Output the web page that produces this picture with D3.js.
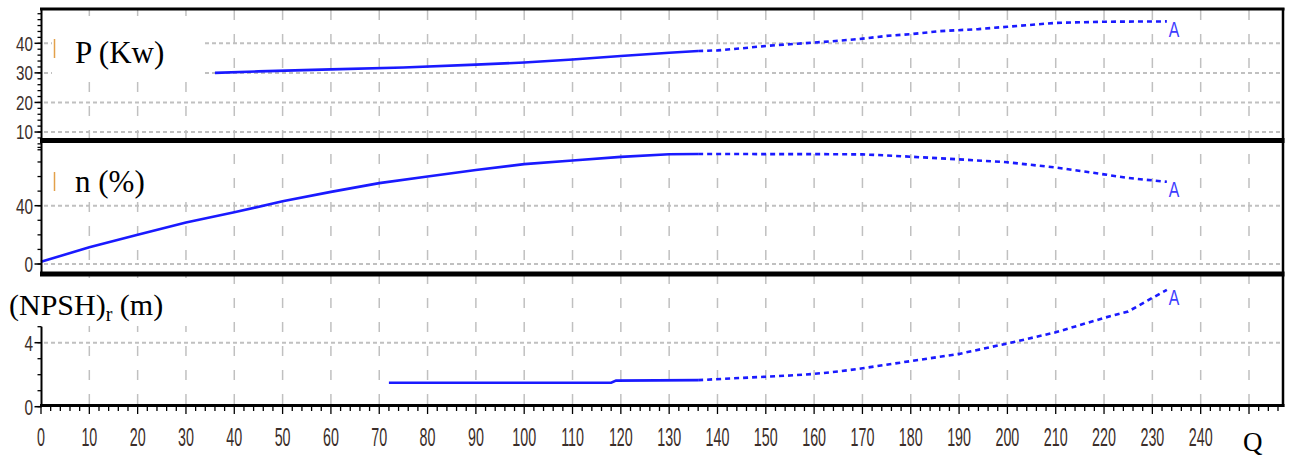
<!DOCTYPE html>
<html><head><meta charset="utf-8">
<script src="https://cdn.jsdelivr.net/npm/d3@7"></script>
<style>body{margin:0;background:#fff;}svg{display:block;}</style>
</head><body><svg id="c" width="1291" height="457"></svg>
<script>
// ---- data ----
const xTicks = [0,10,20,30,40,50,60,70,80,90,100,110,120,130,140,150,160,170,180,190,200,210,220,230,240];
const pTicks = [10,20,30,40];
const nTicks = [0,40];
const hTicks = [0,4];

const pSolidQ = [36,45,60,75,90,100,110,120,130,136];
const pSolid  = [30,30.5,31.2,31.8,32.8,33.5,34.5,35.7,36.8,37.4];
const pDotQ   = [136,140,145,150,155,163,169,175,180,186,194,200,210,220,233];
const pDot    = [37.4,37.6,38.3,39.1,39.7,40.6,41.4,42.5,43.1,44.1,44.8,45.6,46.9,47.3,47.4];

const nSolidQ = [0,10,20,30,40,50,60,70,80,90,100,110,120,130,136];
const nSolid  = [1.5,11.5,20,28.5,35.5,43,49.5,55.5,60,64.5,68.5,71,73.5,75.3,75.5];
const nDotQ   = [136,150,160,170,175,180,190,200,210,220,225,233];
const nDot    = [75.5,75.4,75.4,75.2,74.5,73.6,71.8,69.8,66.2,61.5,59,56.4];

const hSolidQ = [72,118,119,136];
const hSolid  = [1.5,1.5,1.63,1.66];
const hDotQ   = [136,145,155,160,165,170,180,190,200,210,220,225,230,233];
const hDot    = [1.66,1.8,1.95,2.05,2.2,2.4,2.85,3.3,3.95,4.65,5.55,5.95,6.8,7.3];

// ---- scales ----
const svg = d3.select("#c");
const x  = d3.scaleLinear().domain([0,250]).range([41,1249]);
const yP = d3.scaleLinear().domain([0,40]).range([161.6,43.3]);
const yN = d3.scaleLinear().domain([0,40]).range([264,205.7]);
const yH = d3.scaleLinear().domain([0,4]).range([406.7,342.7]);

const LEFT = 41.5, RIGHT = 1283;
const gridCol = "#c0c0c0";

// vertical grid
const g = svg.append("g");
g.selectAll("line.v").data(d3.range(10,251,10)).join("line")
  .attr("x1",d=>x(d)).attr("x2",d=>x(d)).attr("y1",10).attr("y2",404)
  .attr("stroke",gridCol).attr("stroke-width",1.5).attr("stroke-dasharray","10,14");
// horizontal grid
function hgrid(scale, vals){
  g.selectAll(null).data(vals).join("line")
   .attr("x1",44).attr("x2",RIGHT).attr("y1",d=>scale(d)).attr("y2",d=>scale(d))
   .attr("stroke",gridCol).attr("stroke-width",2).attr("stroke-dasharray","4,3");
}
hgrid(yP,[10,20,30,40]);
hgrid(yN,[0,40]);
hgrid(yH,[4]);

// white boxes behind titles
svg.append("rect").attr("x",52).attr("y",16).attr("width",150).attr("height",62).attr("fill","#fff");
svg.append("rect").attr("x",52).attr("y",148).attr("width",150).attr("height",52).attr("fill","#fff");
svg.append("rect").attr("x",4).attr("y",278).attr("width",190).attr("height",48).attr("fill","#fff");

// curves
const blue = "#1a1aff";
function curve(qs, vs, scale, dotted){
  const pts = qs.map((q,i)=>[x(q), scale(vs[i])]);
  svg.append("path").attr("d", d3.line()(pts)).attr("fill","none")
    .attr("stroke",blue).attr("stroke-width",2.6)
    .attr("stroke-dasharray", dotted ? "5,4" : null);
}
curve(pSolidQ,pSolid,yP,false); curve(pDotQ,pDot,yP,true);
curve(nSolidQ,nSolid,yN,false); curve(nDotQ,nDot,yN,true);
curve(hSolidQ,hSolid,yH,false); curve(hDotQ,hDot,yH,true);

// "A" end labels
function endA(qs, vs, scale){
  const q = qs[qs.length-1], v = vs[vs.length-1];
  svg.append("text").text("A")
    .attr("transform",`translate(${x(q)+2},${scale(v)+15.5}) scale(0.72,1)`)
    .attr("font-family","Liberation Sans, Arial, sans-serif").attr("font-size",22)
    .attr("fill","#3d3dff");
}
endA(pDotQ,pDot,yP); endA(nDotQ,nDot,yN); endA(hDotQ,hDot,yH);

// frame
const k = "#000";
svg.append("line").attr("x1",40).attr("x2",1284.5).attr("y1",9).attr("y2",9).attr("stroke",k).attr("stroke-width",3);
svg.append("line").attr("x1",40).attr("x2",1284.5).attr("y1",140.5).attr("y2",140.5).attr("stroke",k).attr("stroke-width",5);
svg.append("line").attr("x1",40).attr("x2",1284.5).attr("y1",274).attr("y2",274).attr("stroke",k).attr("stroke-width",5);
svg.append("line").attr("x1",RIGHT).attr("x2",RIGHT).attr("y1",8).attr("y2",407).attr("stroke",k).attr("stroke-width",2.5);
svg.append("line").attr("x1",LEFT).attr("x2",LEFT).attr("y1",8).attr("y2",272).attr("stroke",k).attr("stroke-width",2);
svg.append("line").attr("x1",LEFT).attr("x2",LEFT).attr("y1",yH(5)).attr("y2",407).attr("stroke",k).attr("stroke-width",2);

// x axis
const xAxisY = 405.5;
svg.append("line").attr("x1",40).attr("x2",1284.5).attr("y1",xAxisY).attr("y2",xAxisY).attr("stroke",k).attr("stroke-width",3);
svg.selectAll(null).data(d3.range(0,257,2)).join("line")
  .attr("x1",d=>x(d)).attr("x2",d=>x(d)).attr("y1",xAxisY)
  .attr("y2",d=> d%10===0 ? 414 : 411).attr("stroke",k).attr("stroke-width",1.3);

const labCol = "#3b2e2a";
svg.selectAll(null).data(xTicks).join("text")
  .attr("transform",d=>`translate(${x(d)},${446}) scale(0.55,1)`)
  .attr("text-anchor","middle").attr("font-family","Liberation Sans, Arial, sans-serif")
  .attr("font-size",26).attr("fill",labCol).text(d=>d);
svg.append("text").attr("x",1243).attr("y",451).attr("font-family","Liberation Serif, Times New Roman, serif")
  .attr("font-size",27).attr("fill","#000").text("Q");

// left ticks & labels
function yAxis(scale, minor, major, labels, fs, sx){
  svg.selectAll(null).data(minor).join("line")
    .attr("x1",LEFT-4).attr("x2",LEFT).attr("y1",d=>scale(d)).attr("y2",d=>scale(d))
    .attr("stroke",k).attr("stroke-width",1.3);
  svg.selectAll(null).data(major).join("line")
    .attr("x1",LEFT-7).attr("x2",LEFT).attr("y1",d=>scale(d)).attr("y2",d=>scale(d))
    .attr("stroke",k).attr("stroke-width",1.5);
  svg.selectAll(null).data(labels).join("text")
    .attr("transform",d=>`translate(${33},${scale(d)+fs*0.36}) scale(${sx},1)`)
    .attr("text-anchor","end").attr("font-family","Liberation Sans, Arial, sans-serif")
    .attr("font-size",fs).attr("fill",labCol).text(d=>d);
}
yAxis(yP, d3.range(4,51,2), pTicks, pTicks, 20, 0.76);
yAxis(yN, d3.range(0,81,10), nTicks, nTicks, 22, 0.7);
yAxis(yH, d3.range(0,6,1), hTicks, hTicks, 22, 0.7);

// orange markers
svg.append("line").attr("x1",54.5).attr("x2",54.5).attr("y1",39).attr("y2",58).attr("stroke","#e3a04a").attr("stroke-width",1.5);
svg.append("line").attr("x1",54.5).attr("x2",54.5).attr("y1",172).attr("y2",191).attr("stroke","#e3a04a").attr("stroke-width",1.5);

// titles
const serif = "Liberation Serif, Times New Roman, serif";
svg.append("text").attr("x",75).attr("y",63).attr("font-family",serif).attr("font-size",31).text("P (Kw)");
svg.append("text").attr("x",75).attr("y",192).attr("font-family",serif).attr("font-size",31).text("n (%)");
const t3 = svg.append("text").attr("x",9).attr("y",315).attr("font-family",serif).attr("font-size",30);
t3.append("tspan").text("(NPSH)");
t3.append("tspan").attr("font-size",20).attr("dy",6).text("r");
t3.append("tspan").attr("dy",-6).text(" (m)");
</script></body></html>
